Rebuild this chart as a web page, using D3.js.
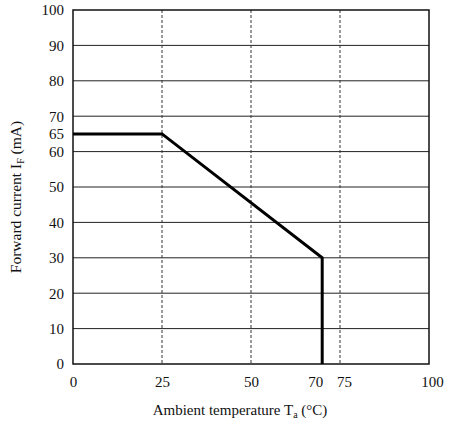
<!DOCTYPE html>
<html>
<head>
<meta charset="utf-8">
<script src="https://cdn.jsdelivr.net/npm/d3@7"></script>
<style>
  html, body { margin: 0; padding: 0; background: #fff; }
  svg { display: block; }
  text { font-family: "Liberation Serif", "DejaVu Serif", serif; fill: #111; }
</style>
</head>
<body>
<svg id="chart" width="455" height="431"></svg>
<script>
// Derating curve: allowable forward current vs ambient temperature
const curveTemp = [0, 25, 70, 70];
const curveCurrent = [65, 65, 30, 0];

const xTicks = [0, 25, 50, 70, 75, 100];
const yTicks = [0, 10, 20, 30, 40, 50, 60, 65, 70, 80, 90, 100];
const yGrid = [10, 20, 30, 40, 50, 60, 70, 80, 90];
const xGrid = [25, 50, 75];

(function draw() {
  const svg = d3.select("#chart");
  const pLeft = 73, pRight = 429, pTop = 10, pBottom = 364;

  const x = d3.scaleLinear().domain([0, 100]).range([pLeft, pRight]);
  const y = d3.scaleLinear().domain([0, 100]).range([pBottom, pTop]);

  // horizontal grid lines
  svg.append("g").selectAll("line").data(yGrid).join("line")
    .attr("x1", pLeft).attr("x2", pRight)
    .attr("y1", d => y(d)).attr("y2", d => y(d))
    .attr("stroke", "#222").attr("stroke-width", 1);

  // vertical dashed grid lines
  svg.append("g").selectAll("line").data(xGrid).join("line")
    .attr("x1", d => x(d)).attr("x2", d => x(d))
    .attr("y1", pTop).attr("y2", pBottom)
    .attr("stroke", "#333").attr("stroke-width", 1)
    .attr("stroke-dasharray", "3,2");

  // frame
  svg.append("rect")
    .attr("x", pLeft).attr("y", pTop)
    .attr("width", pRight - pLeft).attr("height", pBottom - pTop)
    .attr("fill", "none").attr("stroke", "#111").attr("stroke-width", 1.5);

  // derating curve
  const pts = curveTemp.map((t, i) => [t, curveCurrent[i]]);
  svg.append("path")
    .datum(pts)
    .attr("d", d3.line().x(d => x(d[0])).y(d => y(d[1])))
    .attr("fill", "none").attr("stroke", "#000")
    .attr("stroke-width", 3).attr("stroke-linejoin", "miter");

  // y tick labels
  const yAxis = d3.axisLeft(y).tickValues(yTicks).tickSize(0).tickPadding(9).tickFormat(d3.format("d"));
  const gy = svg.append("g").attr("transform", `translate(${pLeft},0)`).call(yAxis);
  gy.select(".domain").remove();
  gy.selectAll("text").attr("font-size", 15).attr("font-family", "Liberation Serif");

  // x tick labels; 70 and 75 nudged apart so they don't collide
  const nudge = { 70: -7, 75: 4, 100: 3 };
  const xAxis = d3.axisBottom(x).tickValues(xTicks).tickSize(0).tickPadding(12).tickFormat(d3.format("d"));
  const gx = svg.append("g").attr("transform", `translate(0,${pBottom})`).call(xAxis);
  gx.select(".domain").remove();
  gx.selectAll("text").attr("font-size", 15).attr("font-family", "Liberation Serif")
    .attr("dx", d => nudge[d] || 0);

  // axis titles
  const xt = svg.append("text")
    .attr("x", 240).attr("y", 415)
    .attr("text-anchor", "middle").attr("font-size", 15);
  xt.append("tspan").text("Ambient temperature T");
  xt.append("tspan").attr("font-size", 10).attr("dy", 3).text("a");
  xt.append("tspan").attr("dy", -3).text(" (°C)");

  const yt = svg.append("text")
    .attr("transform", `translate(21,197) rotate(-90)`)
    .attr("text-anchor", "middle").attr("font-size", 15.5);
  yt.append("tspan").text("Forward current I");
  yt.append("tspan").attr("font-size", 10).attr("dy", 3).text("F");
  yt.append("tspan").attr("dy", -3).text(" (mA)");
})();
</script>
</body>
</html>
